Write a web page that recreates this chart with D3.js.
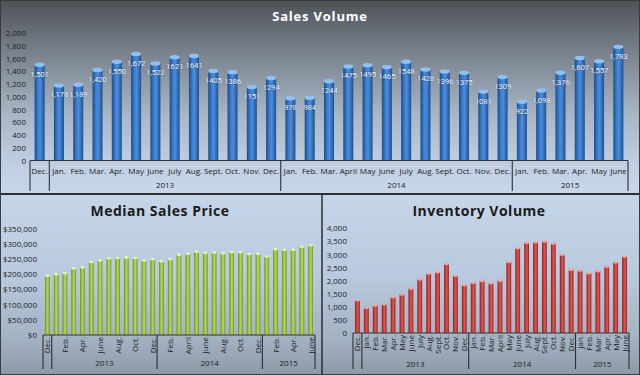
<!DOCTYPE html>
<html>
<head>
<meta charset="utf-8">
<script src="https://cdn.jsdelivr.net/npm/d3@7"></script>
<style>
  body { margin: 0; background: #3a3d40; }
  svg { display: block; font-family: "Open Sans", "Liberation Sans", sans-serif; }
</style>
</head>
<body>
<div id="chart"></div>
<script>
// month labels, Dec 2012 .. June 2015
const months = ["Dec.", "Jan.", "Feb.", "Mar.", "Apr.", "May", "June", "July", "Aug.", "Sept.", "Oct.", "Nov.", "Dec.",
  "Jan.", "Feb.", "Mar.", "April", "May", "June", "July", "Aug.", "Sept.", "Oct.", "Nov.", "Dec.",
  "Jan.", "Feb.", "Mar.", "Apr.", "May", "June"];

// year groups (start index, end index)
const years = [
  { label: "", start: 0, end: 0 },
  { label: "2013", start: 1, end: 12 },
  { label: "2014", start: 13, end: 24 },
  { label: "2015", start: 25, end: 30 }
];

const salesVolume = [1501, 1178, 1189, 1420, 1550, 1672, 1522, 1621, 1641, 1405, 1386, 1151, 1294,
  978, 984, 1244, 1475, 1495, 1465, 1548, 1428, 1396, 1375, 1081, 1309,
  922, 1098, 1376, 1607, 1557, 1783];
const salesLabels = ["1,501", "1,178", "1,189", "1,420", "1,550", "1,672", "1,522", "1621", "1641", "1405", "1386", "1151", "1294",
  "978", "984", "1244", "1475", "1495", "1465", "1548", "1428", "1396", "1375", "1081", "1309",
  "922", "1,098", "1,376", "1,607", "1,557", "1,783"];

const medianPrice = [195000, 200000, 203000, 219000, 222000, 240000, 245000, 252000, 253000, 255000, 253000, 245000, 249000,
  242000, 249000, 264000, 267000, 274000, 270000, 271000, 269000, 273000, 272000, 266000, 267000,
  258000, 282000, 280000, 280000, 290000, 295000];

const inventory = [1250, 960, 1050, 1100, 1370, 1470, 1700, 2050, 2270, 2320, 2640, 2190, 1830,
  1920, 1990, 1900, 2000, 2710, 3240, 3450, 3470, 3500, 3420, 2990, 2420,
  2390, 2280, 2360, 2530, 2700, 2920];

const W = 640, H = 375;
const svg = d3.select("#chart").append("svg").attr("width", W).attr("height", H);
const defs = svg.append("defs");

function vGrad(id, stops) {
  const g = defs.append("linearGradient").attr("id", id).attr("x1", 0).attr("y1", 0).attr("x2", 0).attr("y2", 1);
  stops.forEach(s => g.append("stop").attr("offset", s[0]).attr("stop-color", s[1]));
}
function hGrad(id, stops) {
  const g = defs.append("linearGradient").attr("id", id).attr("x1", 0).attr("y1", 0).attr("x2", 1).attr("y2", 0);
  stops.forEach(s => g.append("stop").attr("offset", s[0]).attr("stop-color", s[1]));
}

vGrad("bgTop", [[0, "#4e5257"], [0.3, "#7d8792"], [0.6, "#a9b7c7"], [0.85, "#c0cfe2"], [1, "#c8d7ea"]]);
vGrad("bgBottom", [[0, "#c6d6ea"], [0.45, "#b8cadf"], [0.8, "#a3b2c3"], [1, "#8d98a5"]]);
hGrad("blueBar", [[0, "#1d4a86"], [0.35, "#3d7fd0"], [0.55, "#4a8ddc"], [1, "#1f4f8f"]]);
hGrad("greenBar", [[0, "#6b8f1e"], [0.4, "#a8d048"], [0.6, "#b2d858"], [1, "#6f931f"]]);
hGrad("redBar", [[0, "#8e1c1c"], [0.4, "#d8453f"], [0.6, "#de5650"], [1, "#921e1e"]]);

// panel backgrounds
svg.append("rect").attr("x", 0).attr("y", 0).attr("width", W).attr("height", 194).attr("fill", "url(#bgTop)");
svg.append("rect").attr("x", 0).attr("y", 194).attr("width", 322).attr("height", H - 194).attr("fill", "url(#bgBottom)");
svg.append("rect").attr("x", 322).attr("y", 194).attr("width", W - 322).attr("height", H - 194).attr("fill", "url(#bgBottom)");

function drawPanel(opt) {
  const g = svg.append("g");
  const x = d3.scaleBand().domain(d3.range(opt.values.length))
    .range(opt.xRange).paddingInner(opt.pad).paddingOuter(opt.pad / 2);
  const y = d3.scaleLinear().domain(opt.yDomain).range(opt.yRange);

  // title
  g.append("text").attr("x", opt.titleX).attr("y", opt.titleY)
    .attr("text-anchor", "middle").attr("font-size", opt.titleSize).attr("font-weight", "bold")
    .attr("letter-spacing", opt.titleSpacing).attr("fill", opt.titleColor).text(opt.title);

  // y axis
  const yAxis = d3.axisLeft(y).tickValues(d3.range(opt.yDomain[0], opt.yDomain[1] + 1, opt.tickStep))
    .tickFormat(opt.tickFormat).tickSize(0).tickPadding(0);
  const ya = g.append("g").attr("transform", `translate(${opt.yLabelX},0)`).call(yAxis);
  ya.select(".domain").remove();
  ya.selectAll("text").attr("font-size", 8).attr("fill", "#222").attr("font-family", "Open Sans, sans-serif");

  // bars
  const bars = g.selectAll(".bar").data(opt.values).enter().append("g");
  bars.append("rect")
    .attr("x", (d, i) => x(i)).attr("width", x.bandwidth())
    .attr("y", d => y(d)).attr("height", d => y(0) - y(d))
    .attr("fill", opt.fill);
  bars.append("ellipse")
    .attr("cx", (d, i) => x(i) + x.bandwidth() / 2).attr("cy", d => y(d))
    .attr("rx", x.bandwidth() / 2).attr("ry", opt.capRy)
    .attr("fill", opt.cap);

  // axis line
  g.append("line").attr("x1", opt.xRange[0]).attr("x2", opt.xRange[1])
    .attr("y1", y(0)).attr("y2", y(0)).attr("stroke", "#333").attr("stroke-width", 1);

  // category labels
  const idx = d3.range(opt.values.length).filter(i => i % opt.labelEvery === 0);
  if (opt.rotate) {
    g.selectAll(".mlab").data(idx).enter().append("text")
      .attr("transform", i => `translate(${x(i) + x.bandwidth() / 2 + 3},${y(0) + 2}) rotate(-90)`)
      .attr("text-anchor", "end").attr("font-size", 8).attr("fill", "#222")
      .text(i => months[i]);
  } else {
    g.selectAll(".mlab").data(idx).enter().append("text")
      .attr("x", i => x(i) + x.bandwidth() / 2).attr("y", opt.monthY)
      .attr("text-anchor", "middle").attr("font-size", 8).attr("fill", "#222")
      .text(i => months[i]);
  }

  // year group separators and labels
  const step = x.step();
  const edges = years.map(yr => opt.xRange[0] + yr.start * step).concat([opt.xRange[1]]);
  g.selectAll(".sep").data(edges).enter().append("line")
    .attr("x1", d => d).attr("x2", d => d)
    .attr("y1", y(0)).attr("y2", opt.sepBottom)
    .attr("stroke", "#222").attr("stroke-width", 1);
  g.selectAll(".ylab").data(years).enter().append("text")
    .attr("x", yr => opt.xRange[0] + (yr.start + yr.end + 1) / 2 * step)
    .attr("y", opt.yearY).attr("text-anchor", "middle").attr("font-size", 8).attr("fill", "#222")
    .text(yr => yr.label);

  return { x, y, g };
}

// Sales Volume
const salesPanel = drawPanel({
  values: salesVolume, xRange: [30, 628], pad: 0.48,
  yDomain: [0, 2000], yRange: [160.5, 33], tickStep: 200, tickFormat: d3.format(","), yLabelX: 26,
  fill: "url(#blueBar)", cap: "#8ec0f2", capRy: 2.2,
  title: "Sales Volume", titleX: 320, titleY: 21, titleSize: 13, titleSpacing: 0.8, titleColor: "#ffffff",
  labelEvery: 1, rotate: false, monthY: 173.5, yearY: 188, sepBottom: 191
});
salesPanel.g.selectAll(".vlab").data(salesVolume).enter().append("text")
  .attr("x", (d, i) => salesPanel.x(i) + salesPanel.x.bandwidth() / 2).attr("y", d => salesPanel.y(d) + 12)
  .attr("text-anchor", "middle").attr("font-size", 8).attr("font-family", "Roboto, sans-serif")
  .attr("letter-spacing", -0.2).attr("fill", "#eef3fa")
  .style("paint-order", "stroke").attr("stroke", "rgba(30,60,110,0.35)").attr("stroke-width", 1)
  .text((d, i) => salesLabels[i]);

// Median Sales Price
drawPanel({
  values: medianPrice, xRange: [43, 315], pad: 0.46,
  yDomain: [0, 350000], yRange: [335, 228.5], tickStep: 50000, tickFormat: d3.format("$,"), yLabelX: 37,
  fill: "url(#greenBar)", cap: "#e2f5a8", capRy: 1.3,
  title: "Median Sales Price", titleX: 160, titleY: 216, titleSize: 14, titleSpacing: 0.5, titleColor: "#1a1a1a",
  labelEvery: 2, rotate: true, yearY: 366, sepBottom: 369
});

// Inventory Volume
drawPanel({
  values: inventory, xRange: [353, 629], pad: 0.46,
  yDomain: [0, 4000], yRange: [333, 228.3], tickStep: 500, tickFormat: d3.format(","), yLabelX: 347,
  fill: "url(#redBar)", cap: "#f3a5a0", capRy: 1.3,
  title: "Inventory Volume", titleX: 479, titleY: 216, titleSize: 14, titleSpacing: 0.5, titleColor: "#1a1a1a",
  labelEvery: 1, rotate: true, yearY: 367, sepBottom: 369
});

// frame lines
svg.append("line").attr("x1", 0).attr("x2", W).attr("y1", 194).attr("y2", 194).attr("stroke", "#2e2e2e").attr("stroke-width", 2);
svg.append("line").attr("x1", 322).attr("x2", 322).attr("y1", 194).attr("y2", H).attr("stroke", "#2e2e2e").attr("stroke-width", 1.5);
svg.append("rect").attr("x", 0.5).attr("y", 0.5).attr("width", W - 1).attr("height", H - 1)
  .attr("fill", "none").attr("stroke", "#3c3c3c").attr("stroke-width", 1);
</script>
</body>
</html>
